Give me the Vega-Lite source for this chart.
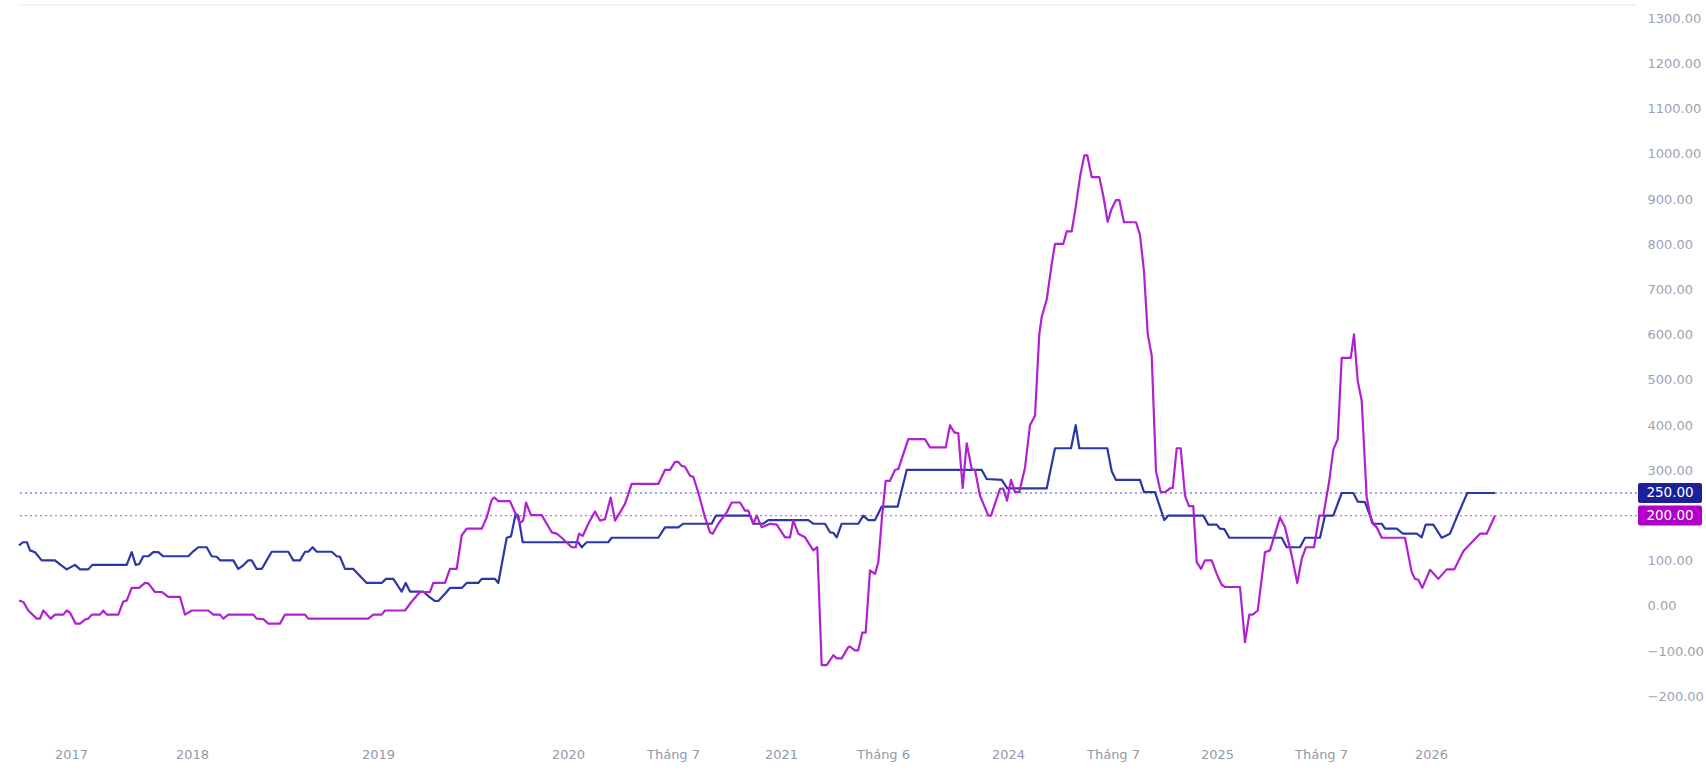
{
  "$schema": "https://vega.github.io/schema/vega-lite/v6.json",
  "width": 1619,
  "height": 730,
  "autosize": "none",
  "padding": {"left": 18, "top": 5, "right": 69, "bottom": 36},
  "background": "white",
  "config": {"view": {"stroke": null}, "font": "DejaVu Sans"},
  "datasets": {
    "series": [
      {"t":19,"v":134,"s":"s1"},{"t":23,"v":141,"s":"s1"},{"t":27,"v":141,"s":"s1"},{"t":30,"v":123,"s":"s1"},{"t":35,"v":119,"s":"s1"},{"t":41.7,"v":101,"s":"s1"},{"t":55,"v":101,"s":"s1"},{"t":60,"v":92,"s":"s1"},{"t":66.7,"v":81,"s":"s1"},{"t":75,"v":91,"s":"s1"},{"t":80,"v":81,"s":"s1"},{"t":88.3,"v":81,"s":"s1"},{"t":92.3,"v":91,"s":"s1"},{"t":126.7,"v":91,"s":"s1"},{"t":131.7,"v":119,"s":"s1"},{"t":135.7,"v":91,"s":"s1"},{"t":139.3,"v":93,"s":"s1"},{"t":143.3,"v":110,"s":"s1"},{"t":148.3,"v":110,"s":"s1"},{"t":153.3,"v":119,"s":"s1"},{"t":158.3,"v":119,"s":"s1"},{"t":163.3,"v":110,"s":"s1"},{"t":188.3,"v":110,"s":"s1"},{"t":193.3,"v":121,"s":"s1"},{"t":198.3,"v":130,"s":"s1"},{"t":206.7,"v":130,"s":"s1"},{"t":211.7,"v":110,"s":"s1"},{"t":216.7,"v":109,"s":"s1"},{"t":220,"v":101,"s":"s1"},{"t":233.3,"v":101,"s":"s1"},{"t":238.3,"v":82,"s":"s1"},{"t":243.3,"v":90,"s":"s1"},{"t":248.3,"v":101,"s":"s1"},{"t":251.7,"v":101,"s":"s1"},{"t":256.7,"v":82,"s":"s1"},{"t":261.7,"v":82,"s":"s1"},{"t":266.7,"v":101,"s":"s1"},{"t":271.7,"v":120,"s":"s1"},{"t":288.3,"v":120,"s":"s1"},{"t":293.3,"v":101,"s":"s1"},{"t":300,"v":101,"s":"s1"},{"t":305,"v":120,"s":"s1"},{"t":308.3,"v":120,"s":"s1"},{"t":312.7,"v":130,"s":"s1"},{"t":316.7,"v":120,"s":"s1"},{"t":331.7,"v":120,"s":"s1"},{"t":336.7,"v":110,"s":"s1"},{"t":340,"v":109,"s":"s1"},{"t":345,"v":82,"s":"s1"},{"t":353.3,"v":82,"s":"s1"},{"t":366.7,"v":51,"s":"s1"},{"t":381.7,"v":51,"s":"s1"},{"t":386,"v":60,"s":"s1"},{"t":393.3,"v":60,"s":"s1"},{"t":401.7,"v":32,"s":"s1"},{"t":405.7,"v":51,"s":"s1"},{"t":410,"v":32,"s":"s1"},{"t":423.3,"v":32,"s":"s1"},{"t":428.3,"v":22,"s":"s1"},{"t":435,"v":11,"s":"s1"},{"t":438.3,"v":11,"s":"s1"},{"t":445,"v":27,"s":"s1"},{"t":450,"v":40,"s":"s1"},{"t":461.7,"v":40,"s":"s1"},{"t":466.7,"v":51,"s":"s1"},{"t":478.3,"v":51,"s":"s1"},{"t":481.7,"v":60,"s":"s1"},{"t":495,"v":60,"s":"s1"},{"t":498.3,"v":51,"s":"s1"},{"t":506.7,"v":151,"s":"s1"},{"t":511,"v":154,"s":"s1"},{"t":515.7,"v":204,"s":"s1"},{"t":518.3,"v":200,"s":"s1"},{"t":522.7,"v":141,"s":"s1"},{"t":578.3,"v":141,"s":"s1"},{"t":581.7,"v":130,"s":"s1"},{"t":586.7,"v":141,"s":"s1"},{"t":608.3,"v":141,"s":"s1"},{"t":611.7,"v":151,"s":"s1"},{"t":658.3,"v":151,"s":"s1"},{"t":665,"v":174,"s":"s1"},{"t":678.3,"v":174,"s":"s1"},{"t":683.3,"v":182,"s":"s1"},{"t":711.7,"v":182,"s":"s1"},{"t":716,"v":200,"s":"s1"},{"t":750,"v":200,"s":"s1"},{"t":753.3,"v":182,"s":"s1"},{"t":763.3,"v":182,"s":"s1"},{"t":768.3,"v":190,"s":"s1"},{"t":808.3,"v":190,"s":"s1"},{"t":813.3,"v":182,"s":"s1"},{"t":825,"v":182,"s":"s1"},{"t":830,"v":163,"s":"s1"},{"t":833.3,"v":162,"s":"s1"},{"t":836.7,"v":152,"s":"s1"},{"t":841.7,"v":182,"s":"s1"},{"t":858.3,"v":182,"s":"s1"},{"t":863.3,"v":200,"s":"s1"},{"t":868.3,"v":190,"s":"s1"},{"t":875,"v":190,"s":"s1"},{"t":881.7,"v":220,"s":"s1"},{"t":897.7,"v":220,"s":"s1"},{"t":906.7,"v":301,"s":"s1"},{"t":981.7,"v":301,"s":"s1"},{"t":986.7,"v":281,"s":"s1"},{"t":1001.7,"v":279,"s":"s1"},{"t":1007.3,"v":260,"s":"s1"},{"t":1046.7,"v":260,"s":"s1"},{"t":1055,"v":349,"s":"s1"},{"t":1071,"v":349,"s":"s1"},{"t":1075.7,"v":400,"s":"s1"},{"t":1079.3,"v":349,"s":"s1"},{"t":1107.3,"v":349,"s":"s1"},{"t":1111.7,"v":298,"s":"s1"},{"t":1116,"v":279,"s":"s1"},{"t":1140,"v":279,"s":"s1"},{"t":1144,"v":252,"s":"s1"},{"t":1155,"v":252,"s":"s1"},{"t":1164.3,"v":190,"s":"s1"},{"t":1168.3,"v":200,"s":"s1"},{"t":1203.3,"v":200,"s":"s1"},{"t":1208.3,"v":180,"s":"s1"},{"t":1216.7,"v":180,"s":"s1"},{"t":1220,"v":171,"s":"s1"},{"t":1224.3,"v":170,"s":"s1"},{"t":1229.3,"v":151,"s":"s1"},{"t":1281.7,"v":151,"s":"s1"},{"t":1286.7,"v":130,"s":"s1"},{"t":1300,"v":130,"s":"s1"},{"t":1305,"v":151,"s":"s1"},{"t":1320,"v":151,"s":"s1"},{"t":1325,"v":200,"s":"s1"},{"t":1333.3,"v":200,"s":"s1"},{"t":1341.7,"v":250,"s":"s1"},{"t":1353.3,"v":250,"s":"s1"},{"t":1357.7,"v":231,"s":"s1"},{"t":1365,"v":230,"s":"s1"},{"t":1370,"v":200,"s":"s1"},{"t":1373.3,"v":182,"s":"s1"},{"t":1381.7,"v":182,"s":"s1"},{"t":1385,"v":171,"s":"s1"},{"t":1396.7,"v":171,"s":"s1"},{"t":1401.7,"v":162,"s":"s1"},{"t":1403.3,"v":160,"s":"s1"},{"t":1416.7,"v":160,"s":"s1"},{"t":1421.7,"v":152,"s":"s1"},{"t":1425.7,"v":180,"s":"s1"},{"t":1433.3,"v":180,"s":"s1"},{"t":1441.7,"v":151,"s":"s1"},{"t":1450,"v":160,"s":"s1"},{"t":1456.7,"v":196,"s":"s1"},{"t":1467.3,"v":250,"s":"s1"},{"t":1495,"v":250,"s":"s1"},
      {"t":19,"v":12,"s":"s2"},{"t":23.3,"v":9,"s":"s2"},{"t":28.3,"v":-10,"s":"s2"},{"t":36.7,"v":-28,"s":"s2"},{"t":40,"v":-28,"s":"s2"},{"t":43.3,"v":-10,"s":"s2"},{"t":50.7,"v":-28,"s":"s2"},{"t":55,"v":-19,"s":"s2"},{"t":63.3,"v":-19,"s":"s2"},{"t":66.7,"v":-10,"s":"s2"},{"t":70,"v":-15,"s":"s2"},{"t":75.7,"v":-39,"s":"s2"},{"t":80,"v":-39,"s":"s2"},{"t":85,"v":-30,"s":"s2"},{"t":88.3,"v":-28,"s":"s2"},{"t":91.7,"v":-19,"s":"s2"},{"t":100,"v":-19,"s":"s2"},{"t":103.3,"v":-10,"s":"s2"},{"t":106.7,"v":-19,"s":"s2"},{"t":118.3,"v":-19,"s":"s2"},{"t":123.3,"v":10,"s":"s2"},{"t":126.7,"v":12,"s":"s2"},{"t":131.7,"v":40,"s":"s2"},{"t":139,"v":40,"s":"s2"},{"t":145,"v":51,"s":"s2"},{"t":148.3,"v":50,"s":"s2"},{"t":155,"v":31,"s":"s2"},{"t":161.7,"v":31,"s":"s2"},{"t":168.3,"v":20,"s":"s2"},{"t":180,"v":20,"s":"s2"},{"t":185,"v":-19,"s":"s2"},{"t":191.7,"v":-10,"s":"s2"},{"t":208.3,"v":-10,"s":"s2"},{"t":213.3,"v":-19,"s":"s2"},{"t":220,"v":-19,"s":"s2"},{"t":223.3,"v":-28,"s":"s2"},{"t":228.3,"v":-19,"s":"s2"},{"t":253.3,"v":-19,"s":"s2"},{"t":256.7,"v":-28,"s":"s2"},{"t":263.3,"v":-29,"s":"s2"},{"t":268.3,"v":-39,"s":"s2"},{"t":280,"v":-39,"s":"s2"},{"t":285,"v":-19,"s":"s2"},{"t":305,"v":-19,"s":"s2"},{"t":308.3,"v":-28,"s":"s2"},{"t":368.3,"v":-28,"s":"s2"},{"t":373.3,"v":-19,"s":"s2"},{"t":381.7,"v":-19,"s":"s2"},{"t":385,"v":-10,"s":"s2"},{"t":405,"v":-10,"s":"s2"},{"t":411.7,"v":10,"s":"s2"},{"t":420,"v":31,"s":"s2"},{"t":430,"v":31,"s":"s2"},{"t":433.3,"v":51,"s":"s2"},{"t":445,"v":51,"s":"s2"},{"t":450,"v":82,"s":"s2"},{"t":456.7,"v":82,"s":"s2"},{"t":461.7,"v":156,"s":"s2"},{"t":466.7,"v":171,"s":"s2"},{"t":481.7,"v":171,"s":"s2"},{"t":486.7,"v":196,"s":"s2"},{"t":491.7,"v":235,"s":"s2"},{"t":494.3,"v":240,"s":"s2"},{"t":498.3,"v":232,"s":"s2"},{"t":510,"v":232,"s":"s2"},{"t":515,"v":207,"s":"s2"},{"t":520,"v":183,"s":"s2"},{"t":523.3,"v":190,"s":"s2"},{"t":526,"v":229,"s":"s2"},{"t":531,"v":201,"s":"s2"},{"t":541.7,"v":201,"s":"s2"},{"t":551.7,"v":163,"s":"s2"},{"t":556.7,"v":160,"s":"s2"},{"t":561.7,"v":151,"s":"s2"},{"t":571.7,"v":130,"s":"s2"},{"t":575.7,"v":130,"s":"s2"},{"t":579,"v":160,"s":"s2"},{"t":582.7,"v":155,"s":"s2"},{"t":588.3,"v":182,"s":"s2"},{"t":595,"v":209,"s":"s2"},{"t":600,"v":189,"s":"s2"},{"t":605,"v":192,"s":"s2"},{"t":610.7,"v":240,"s":"s2"},{"t":615,"v":189,"s":"s2"},{"t":620,"v":207,"s":"s2"},{"t":625,"v":226,"s":"s2"},{"t":631.7,"v":270,"s":"s2"},{"t":658.3,"v":270,"s":"s2"},{"t":665,"v":301,"s":"s2"},{"t":670,"v":301,"s":"s2"},{"t":675,"v":319,"s":"s2"},{"t":678,"v":319,"s":"s2"},{"t":681.7,"v":310,"s":"s2"},{"t":685,"v":308,"s":"s2"},{"t":690,"v":288,"s":"s2"},{"t":693.3,"v":286,"s":"s2"},{"t":698.3,"v":251,"s":"s2"},{"t":705,"v":196,"s":"s2"},{"t":710,"v":163,"s":"s2"},{"t":712.7,"v":160,"s":"s2"},{"t":718.3,"v":182,"s":"s2"},{"t":726.7,"v":207,"s":"s2"},{"t":731.7,"v":229,"s":"s2"},{"t":740,"v":229,"s":"s2"},{"t":745,"v":211,"s":"s2"},{"t":748.3,"v":211,"s":"s2"},{"t":753.3,"v":182,"s":"s2"},{"t":756.7,"v":200,"s":"s2"},{"t":761.7,"v":174,"s":"s2"},{"t":770,"v":182,"s":"s2"},{"t":776.7,"v":180,"s":"s2"},{"t":785,"v":152,"s":"s2"},{"t":790,"v":152,"s":"s2"},{"t":793.3,"v":189,"s":"s2"},{"t":798.3,"v":160,"s":"s2"},{"t":805,"v":152,"s":"s2"},{"t":813.3,"v":123,"s":"s2"},{"t":817.3,"v":130,"s":"s2"},{"t":821.7,"v":-131,"s":"s2"},{"t":826.7,"v":-131,"s":"s2"},{"t":833.3,"v":-109,"s":"s2"},{"t":836.7,"v":-116,"s":"s2"},{"t":841.7,"v":-116,"s":"s2"},{"t":848.3,"v":-91,"s":"s2"},{"t":850,"v":-90,"s":"s2"},{"t":855,"v":-98,"s":"s2"},{"t":858.3,"v":-98,"s":"s2"},{"t":862.3,"v":-59,"s":"s2"},{"t":865.7,"v":-59,"s":"s2"},{"t":870,"v":79,"s":"s2"},{"t":875,"v":71,"s":"s2"},{"t":878.3,"v":97,"s":"s2"},{"t":882.3,"v":204,"s":"s2"},{"t":885.7,"v":277,"s":"s2"},{"t":890,"v":277,"s":"s2"},{"t":895,"v":301,"s":"s2"},{"t":898.3,"v":303,"s":"s2"},{"t":908.3,"v":369,"s":"s2"},{"t":925,"v":369,"s":"s2"},{"t":930,"v":351,"s":"s2"},{"t":945.7,"v":351,"s":"s2"},{"t":950,"v":400,"s":"s2"},{"t":954.3,"v":384,"s":"s2"},{"t":958.3,"v":382,"s":"s2"},{"t":962.7,"v":261,"s":"s2"},{"t":966.7,"v":360,"s":"s2"},{"t":971.7,"v":303,"s":"s2"},{"t":975,"v":301,"s":"s2"},{"t":980,"v":244,"s":"s2"},{"t":988.3,"v":200,"s":"s2"},{"t":991,"v":200,"s":"s2"},{"t":1000,"v":259,"s":"s2"},{"t":1003.3,"v":260,"s":"s2"},{"t":1007,"v":233,"s":"s2"},{"t":1011,"v":279,"s":"s2"},{"t":1015,"v":252,"s":"s2"},{"t":1019.3,"v":252,"s":"s2"},{"t":1025,"v":306,"s":"s2"},{"t":1030,"v":400,"s":"s2"},{"t":1035,"v":421,"s":"s2"},{"t":1039.3,"v":602,"s":"s2"},{"t":1041.7,"v":639,"s":"s2"},{"t":1046.7,"v":678,"s":"s2"},{"t":1051.7,"v":756,"s":"s2"},{"t":1055,"v":801,"s":"s2"},{"t":1063.3,"v":801,"s":"s2"},{"t":1066.7,"v":829,"s":"s2"},{"t":1071.7,"v":829,"s":"s2"},{"t":1075,"v":872,"s":"s2"},{"t":1080,"v":949,"s":"s2"},{"t":1084.3,"v":997,"s":"s2"},{"t":1087.3,"v":997,"s":"s2"},{"t":1091.7,"v":949,"s":"s2"},{"t":1099.3,"v":949,"s":"s2"},{"t":1103.3,"v":907,"s":"s2"},{"t":1107.7,"v":850,"s":"s2"},{"t":1111.7,"v":879,"s":"s2"},{"t":1116,"v":898,"s":"s2"},{"t":1119.3,"v":898,"s":"s2"},{"t":1124,"v":849,"s":"s2"},{"t":1136,"v":849,"s":"s2"},{"t":1140,"v":821,"s":"s2"},{"t":1144,"v":740,"s":"s2"},{"t":1147.7,"v":602,"s":"s2"},{"t":1151.7,"v":554,"s":"s2"},{"t":1156,"v":298,"s":"s2"},{"t":1160.7,"v":252,"s":"s2"},{"t":1165,"v":252,"s":"s2"},{"t":1170.7,"v":261,"s":"s2"},{"t":1172.7,"v":261,"s":"s2"},{"t":1176.7,"v":349,"s":"s2"},{"t":1180.7,"v":349,"s":"s2"},{"t":1185,"v":244,"s":"s2"},{"t":1189,"v":221,"s":"s2"},{"t":1193.3,"v":221,"s":"s2"},{"t":1196.7,"v":97,"s":"s2"},{"t":1201,"v":82,"s":"s2"},{"t":1205,"v":101,"s":"s2"},{"t":1211.7,"v":101,"s":"s2"},{"t":1216.7,"v":71,"s":"s2"},{"t":1221.7,"v":47,"s":"s2"},{"t":1225,"v":42,"s":"s2"},{"t":1240,"v":42,"s":"s2"},{"t":1245,"v":-80,"s":"s2"},{"t":1249.3,"v":-19,"s":"s2"},{"t":1252.7,"v":-19,"s":"s2"},{"t":1257.7,"v":-10,"s":"s2"},{"t":1265,"v":119,"s":"s2"},{"t":1270,"v":123,"s":"s2"},{"t":1280,"v":196,"s":"s2"},{"t":1285,"v":174,"s":"s2"},{"t":1291.7,"v":112,"s":"s2"},{"t":1297.3,"v":51,"s":"s2"},{"t":1301.7,"v":104,"s":"s2"},{"t":1306,"v":130,"s":"s2"},{"t":1314,"v":130,"s":"s2"},{"t":1319.3,"v":200,"s":"s2"},{"t":1323.3,"v":200,"s":"s2"},{"t":1329.3,"v":277,"s":"s2"},{"t":1333.3,"v":346,"s":"s2"},{"t":1337.7,"v":369,"s":"s2"},{"t":1341.7,"v":549,"s":"s2"},{"t":1350.7,"v":549,"s":"s2"},{"t":1354,"v":601,"s":"s2"},{"t":1357.7,"v":498,"s":"s2"},{"t":1361.7,"v":454,"s":"s2"},{"t":1366.7,"v":240,"s":"s2"},{"t":1371.7,"v":185,"s":"s2"},{"t":1376.7,"v":174,"s":"s2"},{"t":1381.7,"v":151,"s":"s2"},{"t":1405,"v":151,"s":"s2"},{"t":1411.7,"v":75,"s":"s2"},{"t":1415,"v":60,"s":"s2"},{"t":1418.3,"v":58,"s":"s2"},{"t":1422.3,"v":40,"s":"s2"},{"t":1430,"v":80,"s":"s2"},{"t":1438.3,"v":60,"s":"s2"},{"t":1446.7,"v":81,"s":"s2"},{"t":1454.3,"v":81,"s":"s2"},{"t":1463.3,"v":121,"s":"s2"},{"t":1480,"v":160,"s":"s2"},{"t":1486.7,"v":160,"s":"s2"},{"t":1495,"v":200,"s":"s2"}
    ]
  },
  "layer": [
    {
      "data": {"values": [{}]},
      "mark": {"type": "rule", "color": "#e6e8ec", "strokeWidth": 1},
      "encoding": {"y": {"datum": 1329.6, "type": "quantitative"}}
    },
    {
      "data": {"values": [{}]},
      "mark": {"type": "rule", "color": "#3f4fd4", "strokeWidth": 1.2, "strokeDash": [2, 3]},
      "encoding": {"y": {"datum": 250, "type": "quantitative"}}
    },
    {
      "data": {"values": [{}]},
      "mark": {"type": "rule", "color": "#d666e6", "strokeWidth": 1.2, "strokeDash": [2, 3]},
      "encoding": {"y": {"datum": 200, "type": "quantitative"}}
    },
    {
      "data": {"name": "series"},
      "mark": {"type": "line", "strokeWidth": 2.2, "strokeJoin": "round", "clip": true},
      "encoding": {
        "x": {
          "field": "t", "type": "quantitative",
          "scale": {"domain": [18, 1637], "nice": false, "zero": false},
          "axis": {
            "orient": "bottom", "title": null, "grid": false, "domain": false, "ticks": false,
            "values": [71, 192, 378, 568, 673, 781, 883, 1008, 1113, 1217, 1321, 1431],
            "labelExpr": "datum.value == 71 ? '2017' : datum.value == 192 ? '2018' : datum.value == 378 ? '2019' : datum.value == 568 ? '2020' : datum.value == 673 ? 'Tháng 7' : datum.value == 781 ? '2021' : datum.value == 883 ? 'Tháng 6' : datum.value == 1008 ? '2024' : datum.value == 1113 ? 'Tháng 7' : datum.value == 1217 ? '2025' : datum.value == 1321 ? 'Tháng 7' : '2026'",
            "labelOverlap": false, "labelFlush": false, "labelBound": false,
            "labelColor": "#9199aa", "labelFontSize": 13, "labelFont": "DejaVu Sans", "labelPadding": 13
          }
        },
        "y": {
          "field": "v", "type": "quantitative",
          "scale": {"domain": [-285.4, 1329.6], "nice": false, "zero": false},
          "axis": {
            "orient": "right", "title": null, "grid": false, "domain": false, "ticks": false,
            "values": [-200, -100, 0, 100, 200, 300, 400, 500, 600, 700, 800, 900, 1000, 1100, 1200, 1300],
            "format": ".2f", "labelColor": "#9ba3b3", "labelFontSize": 13, "labelFont": "DejaVu Sans",
            "labelPadding": 10, "labelOverlap": false, "labelFlush": false, "labelBound": false
          }
        },
        "color": {
          "field": "s", "type": "nominal",
          "scale": {"domain": ["s1", "s2"], "range": ["#2a37a6", "#b120d2"]},
          "legend": null
        }
      }
    },
    {
      "data": {"values": [{"p": 250}]},
      "mark": {"type": "rect", "color": "#1b2196", "cornerRadius": 2},
      "encoding": {
        "x": {"datum": 1638, "type": "quantitative"},
        "x2": {"datum": 1702},
        "y": {"datum": 272.1, "type": "quantitative"},
        "y2": {"datum": 227.9}
      }
    },
    {
      "data": {"values": [{"p": 200}]},
      "mark": {"type": "rect", "color": "#b000c8", "cornerRadius": 2},
      "encoding": {
        "x": {"datum": 1638, "type": "quantitative"},
        "x2": {"datum": 1702},
        "y": {"datum": 222.1, "type": "quantitative"},
        "y2": {"datum": 177.9}
      }
    },
    {
      "data": {"values": [{"p": 250}, {"p": 200}]},
      "mark": {"type": "text", "color": "white", "align": "center", "baseline": "middle", "fontSize": 13.5, "font": "DejaVu Sans"},
      "encoding": {
        "x": {"datum": 1670, "type": "quantitative"},
        "y": {"field": "p", "type": "quantitative"},
        "text": {"field": "p", "type": "quantitative", "format": ".2f"}
      }
    }
  ]
}
